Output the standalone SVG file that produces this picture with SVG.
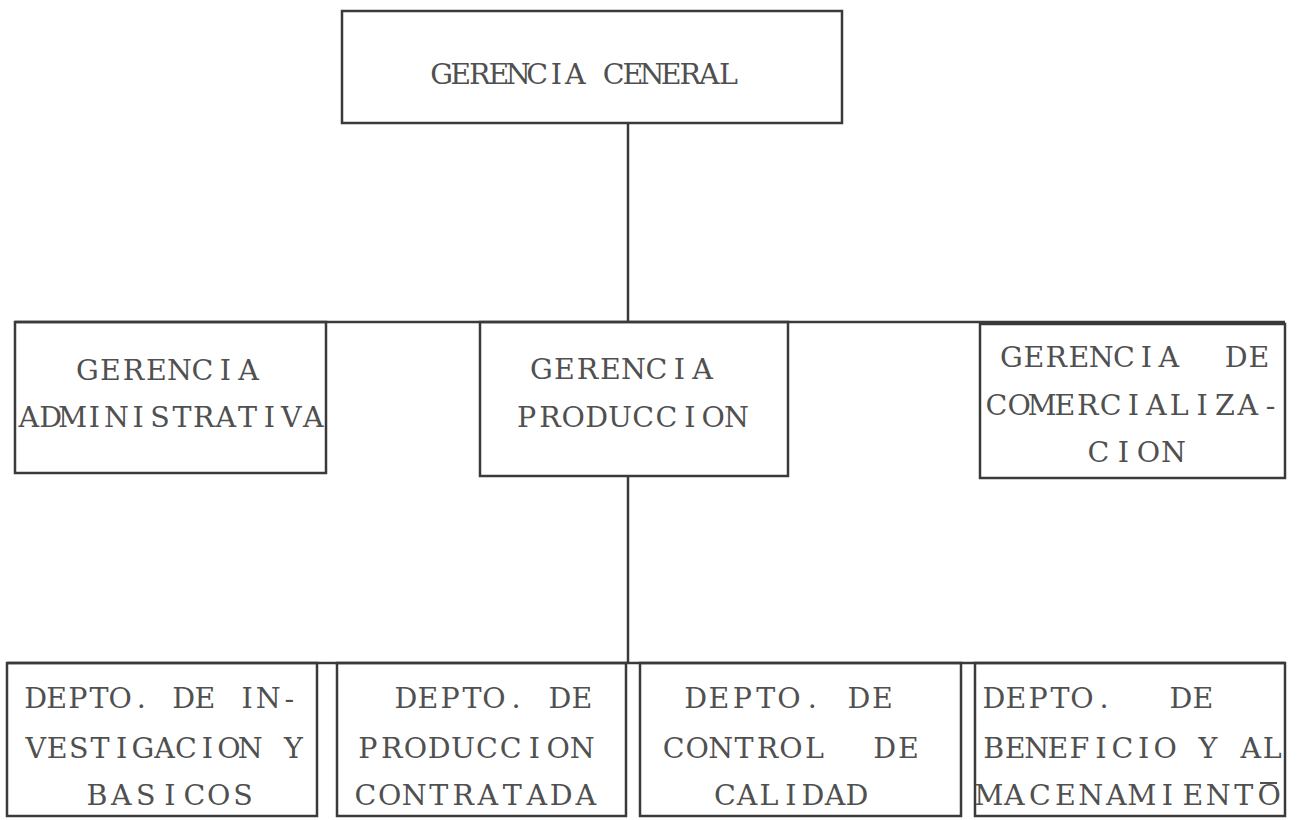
<svg xmlns="http://www.w3.org/2000/svg" width="1302" height="820" viewBox="0 0 1302 820">
<style>
.box{fill:none;stroke:#3a3a3a;stroke-width:2.5}
.ln{fill:none;stroke:#3a3a3a;stroke-width:2.5}
text{font-family:"DejaVu Serif","Liberation Serif",serif;font-size:28.5px;fill:#505050;text-anchor:middle}
</style>
<rect width="1302" height="820" fill="#ffffff"/>
<g id="connectors">
<line class="ln" x1="628" y1="123" x2="628" y2="322"/>
<line class="ln" x1="15" y1="322" x2="1285" y2="322"/>
<line class="ln" x1="628" y1="476" x2="628" y2="663"/>
<line class="ln" x1="7" y1="663" x2="1285" y2="663"/>
</g>
<g id="gerencia-general">
<rect class="box" x="342" y="11" width="500" height="112"/>
<text y="84" x="441.6 460.7 479.8 498.9 518.1 537.2 556.3 575.4 594.6 613.7 632.8 651.9 671.1 690.2 709.3 728.4">GERENCIA CENERAL</text>
</g>
<g id="gerencia-administrativa">
<rect class="box" x="15" y="322" width="311" height="151"/>
<text y="380" x="87.5 110.5 133.5 156.5 179.5 202.5 225.5 248.5">GERENCIA</text>
<text y="427" x="28.9 50.8 72.6 94.5 116.4 138.2 160.1 182 203.8 225.7 247.6 269.5 291.3 313.2">ADMINISTRATIVA</text>
</g>
<g id="gerencia-produccion">
<rect class="box" x="480" y="322" width="308" height="154"/>
<text y="379" x="541.5 564.5 587.5 610.5 633.5 656.5 679.5 702.5">GERENCIA</text>
<text y="427" x="526.7 550 573.3 596.6 619.9 643.2 666.5 689.8 713.1 736.4">PRODUCCION</text>
</g>
<g id="gerencia-comercializacion">
<rect class="box" x="980" y="324" width="305" height="154"/>
<text y="367" x="1011.3 1033.8 1056.3 1078.8 1101.3 1123.8 1146.3 1168.8 1200 1236.3 1258.8">GERENCIA DE</text>
<text y="415" x="996.4 1019.3 1042.1 1065 1087.8 1110.7 1133.5 1156.4 1179.2 1202.1 1224.9 1247.8 1270.6">COMERCIALIZA-</text>
<text y="462" x="1098.5 1123.5 1148.5 1173.5">CION</text>
</g>
<g id="depto-investigacion">
<rect class="box" x="7" y="663" width="310" height="153"/>
<text y="708" x="35.6 56.7 77.9 99 120.2 141.3 162.5 183.6 204.8 225.9 247.1 268.2 289.4">DEPTO. DE IN-</text>
<text y="758" x="35.7 57.2 78.7 100.1 121.6 143 164.5 186 207.4 228.9 250.3 271.8 293.3">VESTIGACION Y</text>
<text y="805" x="97.1 121.4 145.7 170 194.3 218.6 242.9">BASICOS</text>
</g>
<g id="depto-produccion-contratada">
<rect class="box" x="337" y="663" width="289" height="153"/>
<text y="708" x="406 428 450 472 494 516 538 560 582">DEPTO. DE</text>
<text y="758" x="367.9 391.7 415.5 439.3 463.1 486.9 510.7 534.5 558.3 582.1">PRODUCCION</text>
<text y="805" x="365.3 389.8 414.3 438.8 463.3 487.8 512.3 536.8 561.3 585.8">CONTRATADA</text>
</g>
<g id="depto-control-calidad">
<rect class="box" x="640" y="663" width="321" height="153"/>
<text y="708" x="695.7 719 742.3 765.7 789 812.3 835.7 859 882.3">DEPTO. DE</text>
<text y="758" x="673.7 697.2 720.6 744.1 767.5 791 814.4 850 884.8 908.3">CONTROL DE</text>
<text y="805" x="725 747 769 791 813 835 857">CALIDAD</text>
</g>
<g id="depto-beneficio-almacenamiento">
<rect class="box" x="975" y="663" width="310" height="153"/>
<text y="708" x="994 1016 1038 1060 1082 1104 1140 1181 1203">DEPTO. DE</text>
<text y="758" x="993.7 1015.1 1036.6 1058 1079.4 1100.9 1122.3 1143.7 1165.2 1186.6 1208 1229.5 1250.9 1272.3">BENEFICIO Y AL</text>
<text y="805" x="988.8 1014.3 1039.8 1065.3 1090.8 1116.3 1141.8 1167.3 1192.8 1218.3 1243.8 1269.3">MACENAMIENTO</text>
<line x1="1260" y1="783" x2="1277" y2="783" stroke="#505050" stroke-width="2"/>
</g>
</svg>
